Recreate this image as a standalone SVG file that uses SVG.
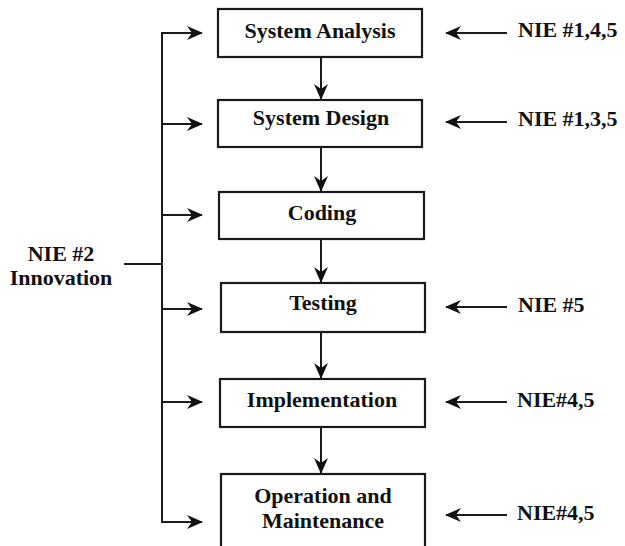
<svg xmlns="http://www.w3.org/2000/svg" width="625" height="546" viewBox="0 0 625 546">
<style>
.box{fill:#fff;stroke:#1a1a1a;stroke-width:2.2}
.t{font-family:'Liberation Serif','Times New Roman',Times,serif;font-weight:bold;font-size:22px;fill:#111}
.c{text-anchor:middle}
.ln{fill:none;stroke:#1a1a1a;stroke-width:2}
</style>
<defs>
<marker id="ah" viewBox="0 0 16 14" refX="15" refY="7" markerWidth="16" markerHeight="14" markerUnits="userSpaceOnUse" orient="auto">
<path d="M0,0 L16,7 L0,14 L5,7 Z" fill="#111"/>
</marker>
</defs>
<g id="connectors">
<line class="ln" x1="321" y1="57" x2="321" y2="99" marker-end="url(#ah)"/>
<line class="ln" x1="321" y1="147" x2="321" y2="191" marker-end="url(#ah)"/>
<line class="ln" x1="321" y1="239" x2="321" y2="282" marker-end="url(#ah)"/>
<line class="ln" x1="321" y1="332" x2="321" y2="378" marker-end="url(#ah)"/>
<line class="ln" x1="321" y1="427" x2="321" y2="473" marker-end="url(#ah)"/>
<line class="ln" x1="124" y1="264" x2="162" y2="264"/>
<line class="ln" x1="162" y1="33" x2="162" y2="522"/>
<line class="ln" x1="161" y1="33" x2="202" y2="33" marker-end="url(#ah)"/>
<line class="ln" x1="161" y1="124" x2="202" y2="124" marker-end="url(#ah)"/>
<line class="ln" x1="161" y1="215" x2="202" y2="215" marker-end="url(#ah)"/>
<line class="ln" x1="161" y1="309" x2="202" y2="309" marker-end="url(#ah)"/>
<line class="ln" x1="161" y1="402" x2="202" y2="402" marker-end="url(#ah)"/>
<line class="ln" x1="161" y1="522" x2="202" y2="522" marker-end="url(#ah)"/>
<line class="ln" x1="507" y1="33" x2="446" y2="33" marker-end="url(#ah)"/>
<line class="ln" x1="507" y1="122" x2="446" y2="122" marker-end="url(#ah)"/>
<line class="ln" x1="507" y1="307" x2="446" y2="307" marker-end="url(#ah)"/>
<line class="ln" x1="507" y1="402" x2="446" y2="402" marker-end="url(#ah)"/>
<line class="ln" x1="507" y1="515" x2="446" y2="515" marker-end="url(#ah)"/>
</g>
<g id="n-analysis"><rect class="box" x="218" y="9" width="204" height="48"/><text class="t c" x="320" y="38">System Analysis</text></g>
<g id="n-design"><rect class="box" x="218" y="100" width="204" height="47"/><text class="t c" x="321" y="125">System Design</text></g>
<g id="n-coding"><rect class="box" x="219" y="192" width="205" height="47"/><text class="t c" x="322" y="220">Coding</text></g>
<g id="n-testing"><rect class="box" x="221" y="283" width="204" height="49"/><text class="t c" x="323" y="310">Testing</text></g>
<g id="n-impl"><rect class="box" x="220" y="379" width="205" height="48"/><text class="t c" x="322" y="407">Implementation</text></g>
<g id="n-op"><rect class="box" x="221" y="474" width="204" height="80"/><text class="t c" x="323" y="503">Operation and</text><text class="t c" x="323" y="528">Maintenance</text></g>
<g id="n-innov"><text class="t c" x="61" y="261">NIE #2</text><text class="t c" x="61" y="285">Innovation</text></g>
<g id="n-nie1"><text class="t" x="518" y="37">NIE #1,4,5</text></g>
<g id="n-nie2"><text class="t" x="518" y="126">NIE #1,3,5</text></g>
<g id="n-nie3"><text class="t" x="518" y="312">NIE #5</text></g>
<g id="n-nie4"><text class="t" x="517" y="407">NIE#4,5</text></g>
<g id="n-nie5"><text class="t" x="517" y="520">NIE#4,5</text></g>
</svg>
